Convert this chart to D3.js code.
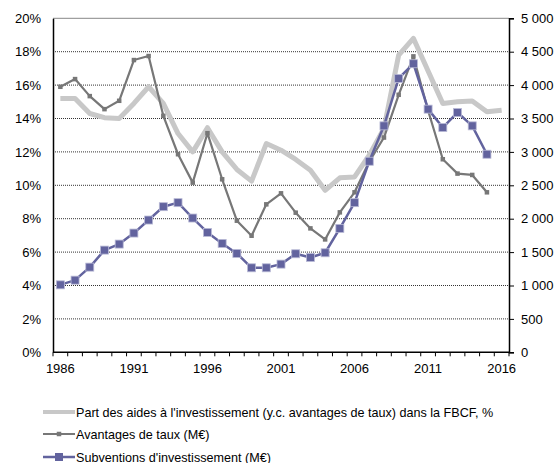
<!DOCTYPE html>
<html>
<head>
<meta charset="utf-8" />
<title>Aides à l'investissement</title>
<script src="https://d3js.org/d3.v7.min.js"></script>
<style>
body { margin: 0; background: #fff; }
svg { font-family: "Liberation Sans", Arial, sans-serif; }
.tick text { font-size: 13px; fill: #000; }
.legend text { font-size: 12.6px; fill: #000; }
</style>
</head>
<body>
<div id="chart"></div>
<script>
// years on the category axis
var years = d3.range(1986, 2017);
var yearLabels = [1986, 1991, 1996, 2001, 2006, 2011, 2016];

// share of investment aid in FBCF (%), left axis
var partAides = [15.2, 15.2, 14.3, 14.05, 14.0, 14.9, 15.9, 14.9, 13.1, 12.0,
    13.45, 12.0, 10.95, 10.25, 12.5, 12.1, 11.55, 10.9, 9.7, 10.45,
    10.5, 11.8, 13.4, 17.8, 18.8, 16.85, 14.9, 15.0, 15.05, 14.4, 14.5];

// M€, right axis
var avantagesTaux = [3975, 4090, 3835, 3640, 3765, 4375, 4435, 3540, 2965, 2540,
    3280, 2590, 1970, 1745, 2215, 2380, 2090, 1855, 1690, 2095,
    2395, 2855, 3215, 3855, 4430, 3620, 2890, 2675, 2655, 2395, null];

var subventions = [1010, 1080, 1275, 1530, 1620, 1785, 1980, 2180, 2240, 2010,
    1795, 1630, 1480, 1265, 1265, 1320, 1475, 1420, 1490, 1855,
    2240, 2860, 3390, 4100, 4320, 3640, 3365, 3590, 3390, 2965, null];

var leftTicks = [0, 2, 4, 6, 8, 10, 12, 14, 16, 18, 20];
var rightTicks = [0, 500, 1000, 1500, 2000, 2500, 3000, 3500, 4000, 4500, 5000];

var legendLabels = [
    "Part des aides à l'investissement (y.c. avantages de taux) dans la FBCF, %",
    "Avantages de taux (M€)",
    "Subventions d'investissement (M€)"
];

var W = 559, H = 463;
var plotL = 53, plotR = 509, plotT = 18.3, plotB = 352.3;

var svg = d3.select("#chart").append("svg")
    .attr("width", W).attr("height", H);

var x = d3.scaleBand().domain(years).range([plotL, plotR]);
var yL = d3.scaleLinear().domain([0, 20]).range([plotB, plotT]);
var yR = d3.scaleLinear().domain([0, 5000]).range([plotB, plotT]);
var cx = function(i) { return x(years[i]) + x.bandwidth() / 2; };

/* dotted grid lines */
svg.append("g").selectAll("line")
    .data(leftTicks.slice(1, -1))
    .enter().append("line")
    .attr("x1", plotL).attr("x2", plotR)
    .attr("y1", function(d) { return yL(d); })
    .attr("y2", function(d) { return yL(d); })
    .attr("stroke", "#333").attr("stroke-width", 1)
    .attr("stroke-dasharray", "1,1");
// top border
svg.append("line").attr("x1", plotL).attr("x2", plotR)
    .attr("y1", plotT).attr("y2", plotT)
    .attr("stroke", "#888").attr("stroke-width", 1);

/* axes */
var axL = svg.append("g").attr("transform", "translate(" + plotL + ",0)")
    .call(d3.axisLeft(yL).tickValues(leftTicks).tickSize(0).tickPadding(12)
        .tickFormat(function(d) { return d + "%"; }));
axL.select(".domain").attr("stroke", "#000").attr("stroke-width", 1.5);

var fmt = function(d) { return d3.format(",")(d).replace(",", " "); };
var axR = svg.append("g").attr("transform", "translate(" + plotR + ",0)")
    .call(d3.axisRight(yR).tickValues(rightTicks).tickSize(5).tickPadding(7)
        .tickFormat(fmt));
axR.select(".domain").attr("stroke", "#000").attr("stroke-width", 1.5);
axR.selectAll(".tick line").attr("stroke", "#000");

// bottom axis: ticks between categories
var axB = svg.append("g").attr("transform", "translate(0," + plotB + ")");
axB.append("line").attr("x1", plotL).attr("x2", plotR)
    .attr("stroke", "#000").attr("stroke-width", 1.5);
axB.selectAll("line.t").data(years.concat([2017])).enter().append("line")
    .attr("class", "t")
    .attr("x1", function(d, i) { return plotL + i * x.step(); })
    .attr("x2", function(d, i) { return plotL + i * x.step(); })
    .attr("y1", 0).attr("y2", 4)
    .attr("stroke", "#000").attr("stroke-width", 1);
axB.selectAll("text").data(yearLabels).enter().append("text")
    .attr("x", function(d) { return x(d) + x.bandwidth() / 2; })
    .attr("y", 21)
    .attr("text-anchor", "middle")
    .style("font-size", "13px")
    .text(function(d) { return d; });

/* series */
function drawSeries(vals, y, color, width, marker, markerStroke) {
    var pts = vals.map(function(v, i) { return [cx(i), v == null ? null : y(v)]; })
        .filter(function(p) { return p[1] != null; });
    svg.append("path")
        .attr("d", d3.line()(pts))
        .attr("fill", "none").attr("stroke", color)
        .attr("stroke-width", width).attr("stroke-linejoin", "round");
    if (marker) {
        svg.append("g").selectAll("rect").data(pts).enter().append("rect")
            .attr("x", function(p) { return p[0] - marker / 2; })
            .attr("y", function(p) { return p[1] - marker / 2; })
            .attr("width", marker).attr("height", marker)
            .attr("fill", color)
            .attr("stroke", markerStroke || "none").attr("stroke-width", 0.8);
    }
}
drawSeries(partAides, yL, "#c8c8c8", 5);
drawSeries(avantagesTaux, yR, "#777777", 2.2, 4.5);
drawSeries(subventions, yR, "#62639e", 2.5, 8, "#b9bad6");

/* legend */
var leg = svg.append("g").attr("class", "legend");
var legY = [412, 434, 457];
var legStyle = [
    { c: "#c8c8c8", w: 4, m: 0 },
    { c: "#777777", w: 2, m: 4.5 },
    { c: "#62639e", w: 2.5, m: 8 }
];
legendLabels.forEach(function(t, i) {
    var s = legStyle[i];
    leg.append("line").attr("x1", 43).attr("x2", 75)
        .attr("y1", legY[i]).attr("y2", legY[i])
        .attr("stroke", s.c).attr("stroke-width", s.w);
    if (s.m) {
        leg.append("rect").attr("x", 59 - s.m / 2).attr("y", legY[i] - s.m / 2)
            .attr("width", s.m).attr("height", s.m).attr("fill", s.c);
    }
    leg.append("text").attr("x", 76).attr("y", legY[i] + 4.5).text(t);
});
</script>
</body>
</html>
